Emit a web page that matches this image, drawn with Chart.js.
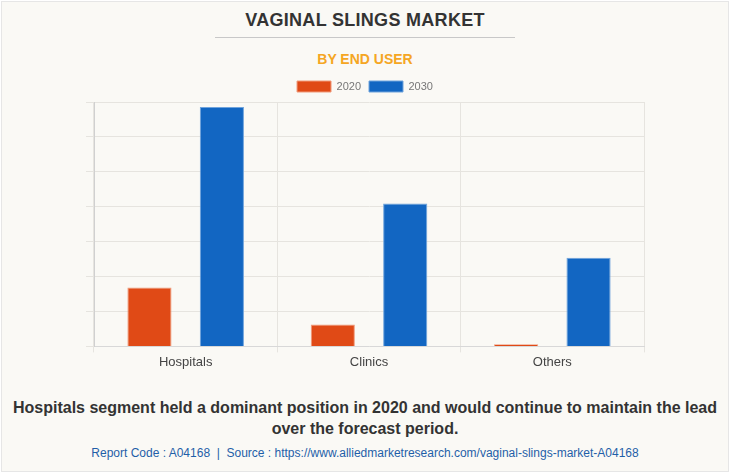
<!DOCTYPE html>
<html>
<head>
<meta charset="utf-8">
<script src="https://cdn.jsdelivr.net/npm/chart.js@4.4.0/dist/chart.umd.min.js"></script>
<style>
  body { margin: 0; background: #fff; font-family: "Liberation Sans", Arial, sans-serif; }
  .frame { position: absolute; left: 1px; top: 1px; width: 726px; height: 469px; background: #faf9f5; border: 1px solid #e6e6e6; }
  .title { position: absolute; top: 10px; width: 100%; text-align: center; font-weight: bold; font-size: 18px; color: #333; letter-spacing: 0.3px; }
  .rule { position: absolute; top: 37px; left: 215px; width: 300px; height: 1px; background: #c8c8c8; }
  .sub { position: absolute; top: 51px; width: 100%; text-align: center; font-weight: bold; font-size: 14px; color: #f5a623; }
  .box { position: absolute; left: 0; top: 73px; width: 730px; height: 299px; }
  .note { position: absolute; top: 397px; left: 0; width: 730px; text-align: center; font-weight: bold; font-size: 16px; line-height: 21px; color: #333; }
  .src { position: absolute; top: 446px; left: 0; width: 730px; text-align: center; font-size: 12px; color: #1f5fa8; }
</style>
</head>
<body>
<div class="frame"></div>
<div class="title">VAGINAL SLINGS MARKET</div>
<div class="rule"></div>
<div class="sub">BY END USER</div>
<div class="box"><canvas id="myChart"></canvas></div>
<div class="note">Hospitals segment held a dominant position in 2020 and would continue to maintain the lead<br>over the forecast period.</div>
<div class="src">Report Code : A04168&nbsp; |&nbsp; Source : https://www.alliedmarketresearch.com/vaginal-slings-market-A04168</div>
<script>
const categories = ["Hospitals", "Clinics", "Others"];
const values2020 = [1.69, 0.63, 0.06];
const values2030 = [6.86, 4.09, 2.54];

const ctx = document.getElementById('myChart').getContext('2d');
const myChart = new Chart(ctx, {
  type: 'bar',
  data: {
    labels: categories,
    datasets: [{
      label: '2020',
      data: values2020,
      backgroundColor: '#e04a16',
      borderColor: '#f09a7a',
      borderWidth: 1
    }, {
      label: '2030',
      data: values2030,
      backgroundColor: '#1266c2',
      borderColor: '#6fa3dc',
      borderWidth: 1
    }]
  },
  options: {
    responsive: true,
    maintainAspectRatio: false,
    animation: false,
    datasets: { bar: { categoryPercentage: 0.79, barPercentage: 0.61 } },
    layout: { padding: { left: 86, right: 86, top: 0, bottom: 0 } },
    plugins: {
      tooltip: { enabled: false },
      legend: {
        labels: {
          boxWidth: 34, boxHeight: 11, padding: 8,
          color: '#777',
          font: { family: 'Liberation Sans', size: 11 }
        }
      }
    },
    scales: {
      x: {
        grid: { color: '#e6e4df', tickLength: 6 },
        border: { color: '#d8d8d8' },
        ticks: { color: '#444', font: { family: 'Liberation Sans', size: 13 }, padding: 2 }
      },
      y: {
        min: 0, max: 7,
        ticks: { stepSize: 1, display: false },
        grid: { color: '#e6e4df', tickLength: 8 },
        border: { color: '#d0d0d0' }
      }
    }
  }
});
</script>
</body>
</html>
